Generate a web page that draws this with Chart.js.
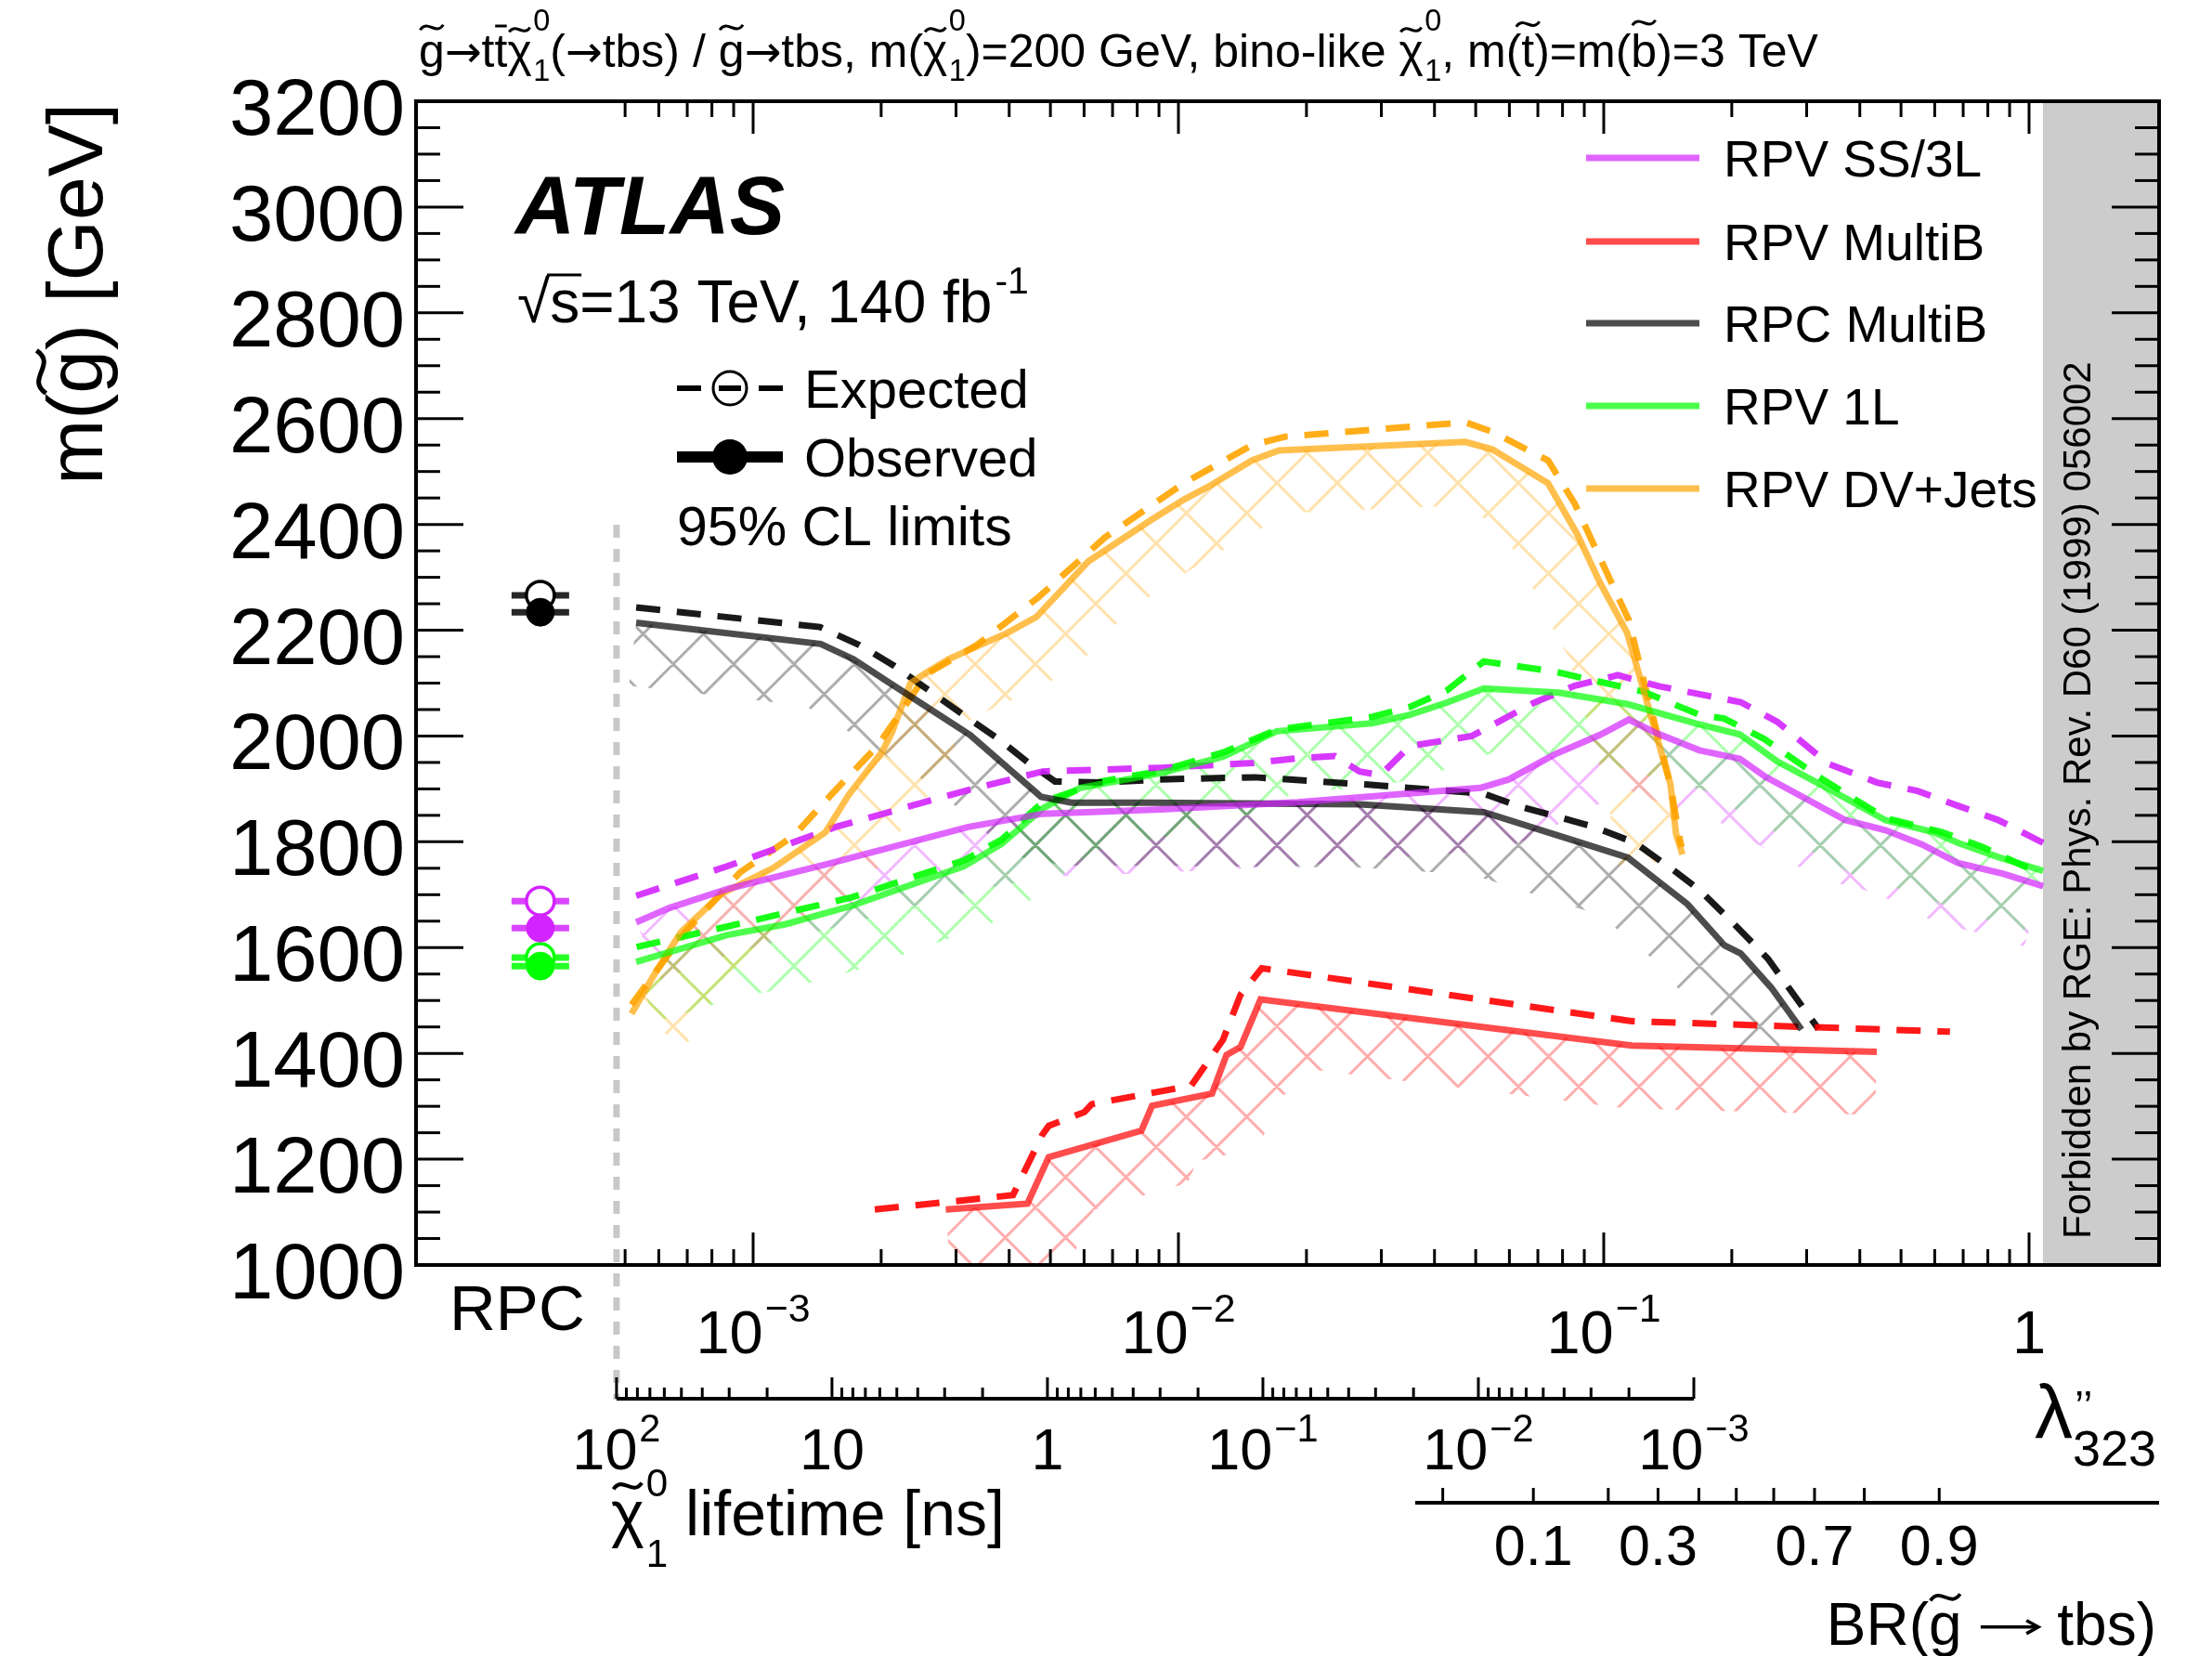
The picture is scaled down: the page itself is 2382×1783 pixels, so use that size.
<!DOCTYPE html>
<html><head><meta charset="utf-8">
<script src="https://cdn.jsdelivr.net/npm/chart.js@4.4.0/dist/chart.umd.min.js"></script>
<style>html,body{margin:0;padding:0;background:#fff;}canvas{display:block;}</style>
</head><body>
<canvas id="c" width="2382" height="1783"></canvas>
<script>
// ---------------- DATA (x = log10 lambda''_323, y = gluino mass limit [GeV]) ----------------
const ss3lObsLogLambda = [-3.275,-3.197,-3.060,-2.826,-2.494,-2.319,-2.041,-1.720,-1.290,-1.223,-1.116,-1.009,-0.941,-0.875,-0.775,-0.680,-0.620,-0.432,-0.338,-0.252,-0.167,-0.062,0.033];
const ss3lObsMass      = [1648,1675,1711,1758,1828,1853,1861,1875,1902,1918,1965,2002,2031,2005,1973,1957,1923,1841,1822,1795,1760,1740,1716];
const ss3lExpLogLambda = [-3.275,-3.060,-2.806,-2.494,-2.319,-2.041,-1.823,-1.720,-1.632,-1.574,-1.525,-1.456,-1.310,-1.164,-1.068,-0.967,-0.870,-0.678,-0.592,-0.471,-0.357,-0.262,-0.167,-0.072,0.033];
const ss3lExpMass      = [1698,1754,1828,1898,1933,1940,1949,1958,1962,1933,1926,1981,2000,2063,2095,2115,2094,2064,2027,1947,1912,1896,1868,1841,1798];

const multiBObsLogLambda = [-2.547,-2.355,-2.305,-2.087,-2.062,-1.921,-1.887,-1.854,-1.807,-0.934,-0.358];
const multiBObsMass      = [1105,1116,1204,1254,1301,1324,1397,1412,1502,1415,1403];
const multiBExpLogLambda = [-2.714,-2.389,-2.321,-2.305,-2.221,-2.204,-1.970,-1.895,-1.854,-1.804,-0.934,-0.186];
const multiBExpMass      = [1105,1132,1245,1263,1289,1304,1339,1426,1511,1561,1461,1441];

const rpcObsLogLambda = [-3.275,-2.841,-2.764,-2.686,-2.490,-2.323,-2.251,-2.063,-1.574,-1.282,-1.057,-0.943,-0.803,-0.716,-0.678,-0.606,-0.535];
const rpcObsMass      = [2214,2174,2145,2104,2002,1885,1874,1874,1871,1856,1799,1770,1682,1604,1589,1524,1445];
const rpcExpLogLambda = [-3.275,-2.843,-2.750,-2.669,-2.504,-2.426,-2.347,-2.290,-2.182,-2.041,-1.820,-1.555,-1.282,-1.203,-1.030,-0.926,-0.832,-0.775,-0.699,-0.614,-0.565,-0.495];
const rpcExpMass      = [2243,2206,2172,2133,2039,1996,1946,1914,1912,1918,1922,1908,1891,1868,1830,1798,1744,1709,1649,1579,1524,1446];

const oneLObsLogLambda = [-3.275,-3.060,-2.925,-2.768,-2.504,-2.416,-2.319,-2.231,-2.041,-1.895,-1.769,-1.545,-1.456,-1.369,-1.282,-1.106,-0.943,-0.784,-0.680,-0.592,-0.480,-0.338,-0.224,-0.167,-0.072,0.033];
const oneLObsMass      = [1573,1624,1644,1679,1754,1796,1863,1902,1930,1961,2009,2024,2040,2063,2090,2082,2060,2024,2003,1952,1904,1841,1818,1798,1771,1745];
const oneLExpLogLambda = [-3.274,-3.060,-2.768,-2.504,-2.416,-2.319,-2.182,-2.041,-1.895,-1.769,-1.545,-1.456,-1.369,-1.282,-1.116,-1.040,-0.907,-0.775,-0.717,-0.622,-0.489,-0.338,-0.204,-0.109,-0.015,0.033];
const oneLExpMass      = [1601,1640,1695,1765,1804,1875,1914,1934,1969,2012,2036,2055,2086,2141,2122,2108,2084,2040,2033,1994,1920,1845,1818,1790,1755,1740];

const dvObsLogLambda = [-3.286,-3.231,-3.170,-3.074,-2.952,-2.830,-2.775,-2.697,-2.674,-2.630,-2.596,-2.541,-2.402,-2.334,-2.212,-2.063,-1.987,-1.924,-1.827,-1.764,-1.325,-1.262,-1.131,-1.062,-1.009,-0.945,-0.906,-0.843,-0.830,-0.815];
const dvObsMass      = [1475,1551,1629,1702,1751,1818,1889,1970,2006,2100,2118,2145,2195,2225,2330,2409,2447,2474,2521,2540,2556,2542,2478,2381,2290,2195,2086,1908,1815,1776];
const dvExpLogLambda = [-3.286,-3.221,-3.157,-3.086,-3.031,-2.904,-2.806,-2.708,-2.651,-2.592,-2.474,-2.328,-2.172,-1.987,-1.827,-1.749,-1.325,-1.262,-1.131,-1.068,-0.941,-0.910,-0.843,-0.823,-0.817];
const dvExpMass      = [1492,1563,1632,1693,1742,1812,1898,1981,2047,2117,2172,2263,2376,2478,2550,2566,2593,2575,2521,2439,2219,2117,1907,1812,1790];

// RPC (lambda = 0) points: [RPC MultiB, RPV SS/3L, RPV 1L]
const rpcPointNames   = ['RPC MultiB','RPV SS/3L','RPV 1L'];
const rpcPointExpMass = [2266,1688,1581];
const rpcPointObsMass = [2234,1637,1565];

// axis / tick definitions
const X_LOG_MIN = -3.7926, X_LOG_MAX = 0.3057;   // lambda axis range (log10)
const X_TICK_MIN = 5e-4;                          // lambda axis ticks start here
const RPC_LAMBDA = 3.16e-4;                       // position of the "RPC" column
const RGE_LAMBDA = 1.078;                         // forbidden region starts here
const yMin = 1000, yMax = 3200, yMinorStep = 50, yMajorStep = 200;
const lambdaLabels = [{v:1e-3,b:'10',e:'\u22123'},{v:1e-2,b:'10',e:'\u22122'},{v:1e-1,b:'10',e:'\u22121'},{v:1,b:'1',e:''}];
const lifetimeLabels = [{v:100,b:'10',e:'2'},{v:10,b:'10',e:''},{v:1,b:'1',e:''},{v:0.1,b:'10',e:'\u22121'},{v:0.01,b:'10',e:'\u22122'},{v:0.001,b:'10',e:'\u22123'}];
const LT_A = -2.308, LT_B = -0.5066;              // log10(lambda) = LT_A + LT_B*log10(tau/ns)
const brTickValues = [0.04,0.1,0.2,0.3,0.4,0.5,0.6,0.7,0.8,0.9];
const brTickLabels = ['0.1','0.3','0.7','0.9'];
const BR_C = 0.042, BR_AXIS_START = 0.03;         // lambda^2 = C*BR/(1-BR)

// ---------------- helpers ----------------
const FAM = '"Liberation Sans", Arial, Helvetica, sans-serif';
const ARROW_FAM = '"DejaVu Sans", sans-serif';
const font = (s, st, fam) => `${st||''} ${s}px ${fam||FAM}`;
const rgba = (c, a) => `rgba(${c[0]},${c[1]},${c[2]},${a})`;
const mk = (logs, mass) => logs.map((l, i) => ({x: Math.pow(10, l), y: mass[i]}));
const lamForTau = t => Math.pow(10, LT_A + LT_B * Math.log10(t));
const lamForBR = br => Math.sqrt(BR_C * br / (1 - br));

const SERIES = [
  {name:'RPV SS/3L',  col:[211,36,255], obs:mk(ss3lObsLogLambda, ss3lObsMass),   exp:mk(ss3lExpLogLambda, ss3lExpMass)},
  {name:'RPV MultiB', col:[255,0,0],    obs:mk(multiBObsLogLambda, multiBObsMass), exp:mk(multiBExpLogLambda, multiBExpMass)},
  {name:'RPC MultiB', col:[0,0,0],      obs:mk(rpcObsLogLambda, rpcObsMass),     exp:mk(rpcExpLogLambda, rpcExpMass)},
  {name:'RPV 1L',     col:[0,255,0],    obs:mk(oneLObsLogLambda, oneLObsMass),   exp:mk(oneLExpLogLambda, oneLExpMass)},
  {name:'RPV DV+Jets',col:[255,164,0],  obs:mk(dvObsLogLambda, dvObsMass),       exp:mk(dvExpLogLambda, dvExpMass)}
];
const RPC_COLS = [[0,0,0],[211,36,255],[0,255,0]];

const datasets = [];
const hatchList = [];
SERIES.forEach(s => {
  hatchList.push({index: datasets.length, color: rgba(s.col, 0.32)});
  datasets.push({label: s.name + ' obs', data: s.obs, borderColor: rgba(s.col, 0.7), borderWidth: 7, pointRadius: 0, fill: false, tension: 0, order: 10});
  datasets.push({label: s.name + ' exp', data: s.exp, borderColor: rgba(s.col, 0.9), borderWidth: 7, borderDash: [26, 18], pointRadius: 0, fill: false, tension: 0, order: 11});
});
rpcPointNames.forEach((n, i) => {
  const c = RPC_COLS[i];
  datasets.push({label: n + ' RPC exp bar', data: [{x: RPC_LAMBDA, y: rpcPointExpMass[i]}], showLine: false, pointStyle: 'line', pointRadius: 31, pointBorderWidth: 7, pointBorderColor: rgba(c, 0.85), order: 6});
  datasets.push({label: n + ' RPC obs bar', data: [{x: RPC_LAMBDA, y: rpcPointObsMass[i]}], showLine: false, pointStyle: 'line', pointRadius: 31, pointBorderWidth: 7, pointBorderColor: rgba(c, 0.85), order: 6});
  datasets.push({label: n + ' RPC exp', data: [{x: RPC_LAMBDA, y: rpcPointExpMass[i]}], showLine: false, pointStyle: 'circle', pointRadius: 15, pointBorderWidth: 3.5, pointBorderColor: rgba(c, 1), pointBackgroundColor: '#ffffff', order: 5});
  datasets.push({label: n + ' RPC obs', data: [{x: RPC_LAMBDA, y: rpcPointObsMass[i]}], showLine: false, pointStyle: 'circle', pointRadius: 15, pointBorderWidth: 1, pointBorderColor: rgba(c, 1), pointBackgroundColor: rgba(c, 1), order: 4});
});

function drawTilde(ctx, cx, cy, w, lw) {
  const h = w * 0.22;
  ctx.save(); ctx.lineWidth = lw; ctx.strokeStyle = '#000';
  ctx.beginPath();
  ctx.moveTo(cx - w / 2, cy + h / 2);
  ctx.bezierCurveTo(cx - w / 6, cy - h * 1.7, cx + w / 6, cy + h * 1.7, cx + w / 2, cy - h / 2);
  ctx.stroke(); ctx.restore();
}
function drawRich(ctx, parts, x, y, size, align) {
  const items = parts.map(p => {
    const fs = size * (p.scale || 1);
    ctx.font = font(fs, p.style, p.fam);
    const mw = p.arrow ? p.arrow * size : (p.t ? ctx.measureText(p.t).width : 0);
    const ss = size * (p.ss || 0.65);
    let sw = 0;
    if (p.sub || p.sup) {
      ctx.font = font(ss);
      sw = Math.max(p.sub ? ctx.measureText(p.sub).width : 0, p.sup ? ctx.measureText(p.sup).width : 0) + size * 0.03;
    }
    return {p, mw, ss, sw, fs};
  });
  const W = items.reduce((s, it) => s + it.mw + it.sw, 0);
  let cx = align === 'right' ? x - W : align === 'center' ? x - W / 2 : x;
  ctx.textAlign = 'left'; ctx.textBaseline = 'alphabetic'; ctx.fillStyle = '#000';
  for (const it of items) {
    const p = it.p;
    if (p.arrow) {
      // thin long arrow (as in ROOT's #rightarrow)
      const ay = y - 0.3 * size, x0 = cx + 0.04 * size, x1 = cx + it.mw - 0.04 * size;
      ctx.save(); ctx.strokeStyle = '#000'; ctx.lineWidth = size * 0.055;
      ctx.beginPath(); ctx.moveTo(x0, ay); ctx.lineTo(x1, ay); ctx.stroke();
      ctx.beginPath(); ctx.moveTo(x1 - 0.2 * size, ay - 0.11 * size); ctx.lineTo(x1, ay); ctx.lineTo(x1 - 0.2 * size, ay + 0.11 * size); ctx.stroke();
      ctx.restore();
    } else if (p.t) { ctx.font = font(it.fs, p.style, p.fam); ctx.fillText(p.t, cx, y + (p.dy || 0) * size); }
    if (p.tilde) drawTilde(ctx, cx + it.mw / 2, y - (p.th || 0.8) * size, (p.tw || 0.5) * size, size * 0.06);
    if (p.bar) { ctx.save(); ctx.strokeStyle = '#000'; ctx.lineWidth = size * 0.06; ctx.beginPath(); ctx.moveTo(cx + it.mw * 0.05, y - 0.88 * size); ctx.lineTo(cx + it.mw * 0.95, y - 0.88 * size); ctx.stroke(); ctx.restore(); }
    cx += it.mw;
    if (it.sw) {
      const sx = cx + size * 0.03;
      ctx.font = font(it.ss);
      if (p.sup) ctx.fillText(p.sup, sx, y + (p.supDy ?? -0.5) * size);
      if (p.sub) ctx.fillText(p.sub, sx, y + (p.subDy ?? 0.3) * size);
      cx += it.sw;
    }
  }
  return W;
}
function seg(ctx, x1, y1, x2, y2) { ctx.beginPath(); ctx.moveTo(x1, y1); ctx.lineTo(x2, y2); ctx.stroke(); }

function hatchBand(ctx, pts, width, color, a) {
  const n = pts.length; if (n < 2) return;
  const sn = [];
  for (let i = 0; i < n - 1; i++) {
    const dx = pts[i+1].x - pts[i].x, dy = pts[i+1].y - pts[i].y, L = Math.hypot(dx, dy) || 1;
    sn.push({x: -dy / L, y: dx / L});
  }
  const nm = [];
  for (let i = 0; i < n; i++) {
    const p = sn[Math.max(0, i - 1)], q = sn[Math.min(n - 2, i)];
    let nx = p.x + q.x, ny = p.y + q.y; const L = Math.hypot(nx, ny) || 1; nx /= L; ny /= L;
    const d = Math.max(0.5, nx * q.x + ny * q.y);
    nm.push({x: nx / d, y: ny / d});
  }
  ctx.save();
  ctx.beginPath(); ctx.rect(a.left, a.top, a.right - a.left, a.bottom - a.top); ctx.clip();
  ctx.beginPath();
  ctx.moveTo(pts[0].x, pts[0].y);
  for (let i = 1; i < n; i++) ctx.lineTo(pts[i].x, pts[i].y);
  for (let i = n - 1; i >= 0; i--) ctx.lineTo(pts[i].x + nm[i].x * width, pts[i].y + nm[i].y * width);
  ctx.closePath(); ctx.clip();
  ctx.strokeStyle = color; ctx.lineWidth = 3;
  const P = 65, H = 2000;
  ctx.beginPath();
  for (let c = -2200; c < 4600; c += P) { ctx.moveTo(c, 0); ctx.lineTo(c + H, H); ctx.moveTo(c, 0); ctx.lineTo(c - H, H); }
  ctx.stroke();
  ctx.restore();
}

const ARR = {t: '\u2192', fam: ARROW_FAM, scale: 0.95};

const art = {
  id: 'art',
  beforeDatasetsDraw(chart) {
    const {ctx, chartArea: a, scales: {x}} = chart;
    hatchList.forEach(h => {
      const pts = chart.getDatasetMeta(h.index).data.map(p => ({x: p.x, y: p.y}));
      hatchBand(ctx, pts, 68, h.color, a);
    });
    const bx = x.getPixelForValue(RGE_LAMBDA);
    ctx.save();
    ctx.fillStyle = '#cccccc'; ctx.fillRect(bx, a.top, a.right - bx, a.bottom - a.top);
    ctx.fillStyle = '#000'; ctx.font = font(42);
    ctx.translate(bx + 51, a.bottom - 28); ctx.rotate(-Math.PI / 2);
    ctx.textAlign = 'left'; ctx.textBaseline = 'alphabetic';
    ctx.fillText('Forbidden by RGE: Phys. Rev. D60 (1999) 056002', 0, 0);
    ctx.restore();
  },
  afterDatasetsDraw(chart) {
    const {ctx, chartArea: a, scales: {x, y}} = chart;
    ctx.save();
    ctx.strokeStyle = '#000'; ctx.fillStyle = '#000';
    // frame
    ctx.lineWidth = 4; ctx.strokeRect(a.left, a.top, a.right - a.left, a.bottom - a.top);
    // y ticks + labels
    ctx.lineWidth = 3;
    for (let v = yMin; v <= yMax; v += yMinorStep) {
      const py = y.getPixelForValue(v), maj = (v - yMin) % yMajorStep === 0, L = maj ? 51 : 26;
      seg(ctx, a.left, py, a.left + L, py); seg(ctx, a.right, py, a.right - L, py);
      if (maj) { ctx.font = font(85); ctx.textAlign = 'right'; ctx.textBaseline = 'alphabetic'; ctx.fillText(String(v), a.left - 12, py + 36); }
    }
    // x ticks
    for (let e = -4; e <= 0; e++) for (let m = 1; m <= 9; m++) {
      const v = m * Math.pow(10, e);
      if (v < X_TICK_MIN * 0.999 || v > 1.0001) continue;
      const px = x.getPixelForValue(v), L = m === 1 ? 35 : 17;
      seg(ctx, px, a.bottom, px, a.bottom - L); seg(ctx, px, a.top, px, a.top + L);
    }
    lambdaLabels.forEach(l => {
      const parts = l.e ? [{t: l.b, sup: l.e, ss: 0.66, supDy: -0.53}] : [{t: l.b}];
      drawRich(ctx, parts, x.getPixelForValue(l.v), a.bottom + 95, 65, 'center');
    });
    ctx.font = font(69); ctx.textAlign = 'center'; ctx.fillText('RPC', x.getPixelForValue(RPC_LAMBDA) - 25, a.bottom + 70);
    // lambda'' title
    const lx = a.right - 3;
    ctx.font = font(54); ctx.textAlign = 'right'; ctx.fillText('323', lx, a.bottom + 216);
    const w323 = ctx.measureText('323').width;
    ctx.font = font(46); ctx.textAlign = 'left'; ctx.fillText('\u2019\u2019', lx - w323 + 2, a.bottom + 168);
    ctx.font = font(82); ctx.textAlign = 'right'; ctx.fillText('\u03bb', lx - w323, a.bottom + 186);

    // RPC dashed separator
    const xr = x.getPixelForValue(lamForTau(100));
    ctx.save(); ctx.strokeStyle = '#c8c8c8'; ctx.lineWidth = 7; ctx.setLineDash([14, 12]);
    seg(ctx, xr, 565, xr, 1507); ctx.restore();

    // lifetime axis
    const ly = 1506, xl0 = x.getPixelForValue(lamForTau(100)), xl1 = x.getPixelForValue(lamForTau(0.001));
    ctx.lineWidth = 4; seg(ctx, xl0, ly, xl1, ly);
    ctx.lineWidth = 3;
    for (let e = -3; e <= 2; e++) for (let m = 1; m <= 9; m++) {
      const t = m * Math.pow(10, e); if (t > 100.001) continue;
      const px = x.getPixelForValue(lamForTau(t));
      seg(ctx, px, ly, px, ly - (m === 1 ? 23 : 12));
    }
    lifetimeLabels.forEach(l => {
      const parts = l.e ? [{t: l.b, sup: l.e, ss: 0.66, supDy: -0.47}] : [{t: l.b}];
      drawRich(ctx, parts, x.getPixelForValue(lamForTau(l.v)), 1582, 63, 'center');
    });
    drawRich(ctx, [{t: '\u03c7', tilde: true, th: 0.78, tw: 0.45, sub: '1', sup: '0', subDy: 0.5, supDy: -0.62, ss: 0.62}, {t: ' lifetime [ns]'}], 658, 1653, 68, 'left');

    // BR axis
    const by = 1618, bx0 = x.getPixelForValue(lamForBR(BR_AXIS_START));
    ctx.lineWidth = 4; seg(ctx, bx0, by, a.right, by);
    ctx.lineWidth = 3;
    brTickValues.forEach(b => { const px = x.getPixelForValue(lamForBR(b)); seg(ctx, px, by, px, by - 16); });
    ctx.font = font(61); ctx.textAlign = 'center';
    brTickLabels.forEach(s => ctx.fillText(s, x.getPixelForValue(lamForBR(parseFloat(s))), 1685));
    drawRich(ctx, [{t: 'BR('}, {t: 'g', tilde: true, th: 0.8}, {t: ' '}, {arrow: 1.05}, {t: ' tbs)'}], a.right - 3, 1771, 64, 'right');

    // y axis title
    ctx.save(); ctx.translate(110, 111); ctx.rotate(-Math.PI / 2);
    drawRich(ctx, [{t: 'm('}, {t: 'g', tilde: true, th: 0.78, tw: 0.55}, {t: ') [GeV]'}], 0, 0, 84, 'right');
    ctx.restore();

    // top title
    const chi = {t: '\u03c7', tilde: true, th: 0.8, tw: 0.45, sub: '1', sup: '0', subDy: 0.3, supDy: -0.78, ss: 0.65};
    drawRich(ctx, [
      {t: 'g', tilde: true, th: 0.85}, ARR, {t: 't'}, {t: 't', bar: true}, chi, {t: '('}, ARR, {t: 'tbs) / '},
      {t: 'g', tilde: true, th: 0.85}, ARR, {t: 'tbs, m('}, chi, {t: ')=200 GeV, bino-like '}, chi,
      {t: ', m('}, {t: 't', tilde: true, th: 0.92}, {t: ')=m('}, {t: 'b', tilde: true, th: 0.95}, {t: ')=3 TeV'}
    ], 451, 72, 50, 'left');

    // ATLAS label
    ctx.font = font(89, 'italic bold'); ctx.textAlign = 'left'; ctx.fillStyle = '#000';
    ctx.fillText('ATLAS', 555, 252);
    // sqrt(s)
    ctx.font = font(64);
    const sx = 557, sy = 347;
    ctx.fillText('\u221a', sx, sy);
    const wr = ctx.measureText('\u221a').width;
    ctx.fillText('s=13 TeV, 140 fb', sx + wr, sy);
    const ws = ctx.measureText('s').width, wt = ctx.measureText('s=13 TeV, 140 fb').width;
    ctx.lineWidth = 3; seg(ctx, sx + wr - 3, sy - 51, sx + wr + ws + 2, sy - 51);
    ctx.font = font(41); ctx.fillText('-1', sx + wr + wt + 3, sy - 31);

    // Expected / Observed legend
    const lx0 = 729, lx1 = 843, lc = 786;
    ctx.lineWidth = 6;
    [[729, 755], [774, 798], [817, 843]].forEach(s => seg(ctx, s[0], 418, s[1], 418));
    ctx.lineWidth = 3; ctx.beginPath(); ctx.arc(lc, 418, 18, 0, 2 * Math.PI); ctx.stroke();
    ctx.lineWidth = 12; seg(ctx, lx0, 492, lx1, 492);
    ctx.beginPath(); ctx.arc(lc, 492, 19, 0, 2 * Math.PI); ctx.fill();
    ctx.font = font(58); ctx.textAlign = 'left';
    ctx.fillText('Expected', 866, 439);
    ctx.fillText('Observed', 866, 513);
    ctx.font = font(59); ctx.fillText('95% CL limits', 729, 587);

    // analyses legend
    const legY = [170, 260, 348, 437, 526];
    SERIES.forEach((s, i) => {
      ctx.strokeStyle = rgba(s.col, 0.7); ctx.lineWidth = 7;
      seg(ctx, 1708, legY[i], 1830, legY[i]);
      ctx.fillStyle = '#000'; ctx.font = font(55); ctx.textAlign = 'left';
      ctx.fillText(s.name, 1856, legY[i] + 20);
    });
    ctx.restore();
  }
};

Chart.defaults.font.family = FAM;
new Chart(document.getElementById('c').getContext('2d'), {
  type: 'line',
  data: {datasets},
  options: {
    responsive: false, animation: false, devicePixelRatio: 1,
    layout: {padding: {left: 448, top: 109, right: 57, bottom: 421}},
    plugins: {legend: {display: false}, tooltip: {enabled: false}, title: {display: false}},
    scales: {
      x: {type: 'logarithmic', min: Math.pow(10, X_LOG_MIN), max: Math.pow(10, X_LOG_MAX), display: false},
      y: {type: 'linear', min: yMin, max: yMax, display: false}
    },
    elements: {point: {radius: 0, hoverRadius: 0}, line: {tension: 0}}
  },
  plugins: [art]
});
</script>
</body></html>
